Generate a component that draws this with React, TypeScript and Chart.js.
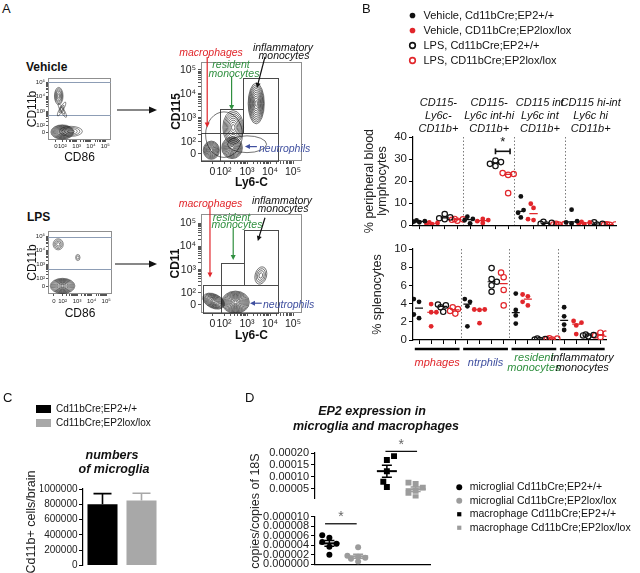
import React, { useEffect, useRef } from 'react';
import { Chart, registerables } from 'chart.js';

Chart.register(...registerables);

const FONT = "Arial, 'Liberation Sans', Helvetica, sans-serif";
Chart.defaults.font.family = FONT;
Chart.defaults.color = '#111';

// ---------------- colours ----------------
const RED = '#e1262b';
const GREEN = '#2f8f3f';
const BLUE = '#3f4f9f';
const BLACK = '#111111';
const GRAY_C = '#a8a8a8';
const GRAY_D = '#9c9c9c';

// ---------------- Panel A data (flow cytometry, display units: 0 -> ~1.5, 10^n -> n) ----------------
const flowTickLabels = ['0', '10²', '10³', '10⁴', '10⁵'];
const decades = [2, 3, 4];
const minorMultipliers = [2, 3, 4, 5, 6, 7, 8, 9];

// populations: centre (x,y), spread (rx,ry), rotation, contour count
const vehSmallPops = [
  { x: 1.75, y: 4.05, rx: 0.3, ry: 0.6, rot: 0, rings: 6 },
  { x: 1.95, y: 3.15, rx: 0.55, ry: 0.13, rot: -60, rings: 2 },
  { x: 2.0, y: 3.05, rx: 0.55, ry: 0.13, rot: 60, rings: 2 },
  { x: 2.0, y: 1.55, rx: 0.8, ry: 0.5, rot: 0, rings: 12 },
  { x: 2.6, y: 1.6, rx: 0.8, ry: 0.35, rot: 0, rings: 4 },
];
const vehBigPops = [
  { x: 2.0, y: 2.3, rx: 0.8, ry: 0.95, rot: 0, rings: 1 },
  { x: 3.0, y: 1.9, rx: 0.85, ry: 0.35, rot: 0, rings: 1 },
  { x: 1.45, y: 1.65, rx: 0.35, ry: 0.38, rot: 0, rings: 9 },
  { x: 2.35, y: 1.75, rx: 0.45, ry: 0.45, rot: 0, rings: 10 },
  { x: 2.4, y: 2.6, rx: 0.45, ry: 0.7, rot: 0, rings: 8 },
  { x: 3.4, y: 3.6, rx: 0.35, ry: 0.85, rot: 0, rings: 10 },
];
const lpsSmallPops = [
  { x: 1.7, y: 4.45, rx: 0.35, ry: 0.4, rot: 0, rings: 4 },
  { x: 3.05, y: 3.5, rx: 0.15, ry: 0.22, rot: 0, rings: 2 },
  { x: 2.0, y: 1.45, rx: 0.85, ry: 0.55, rot: 0, rings: 12 },
];
const lpsBigPops = [
  { x: 1.55, y: 1.65, rx: 0.5, ry: 0.3, rot: 25, rings: 10 },
  { x: 2.5, y: 1.6, rx: 0.6, ry: 0.48, rot: 0, rings: 12 },
  { x: 3.6, y: 2.75, rx: 0.25, ry: 0.38, rot: 15, rings: 4 },
];
const vehGates = [
  { x1: 1.0, x2: 1.83, y1: 1.2, y2: 2.36 },
  { x1: 1.83, x2: 4.33, y1: 1.2, y2: 2.36 },
  { x1: 1.83, x2: 2.84, y1: 2.36, y2: 3.38 },
  { x1: 2.84, x2: 4.33, y1: 2.36, y2: 4.68 },
];
const lpsGates = [
  { x1: 1.1, x2: 1.87, y1: 1.14, y2: 2.34 },
  { x1: 1.87, x2: 4.33, y1: 1.14, y2: 2.34 },
  { x1: 1.87, x2: 2.88, y1: 2.34, y2: 3.27 },
  { x1: 2.88, x2: 4.33, y1: 2.34, y2: 4.7 },
];
const vehArrows = [
  { x1: 1.27, y1: 5.54, x2: 1.27, y2: 2.6, c: RED },
  { x1: 2.33, y1: 4.71, x2: 2.33, y2: 3.33, c: GREEN },
  { x1: 3.78, y1: 5.54, x2: 3.43, y2: 4.25, c: BLACK },
  { x1: 3.43, y1: 1.8, x2: 2.91, y2: 1.8, c: BLUE },
];
const lpsArrows = [
  { x1: 1.39, y1: 5.69, x2: 1.39, y2: 2.66, c: RED },
  { x1: 2.4, y1: 4.79, x2: 2.4, y2: 3.42, c: GREEN },
  { x1: 3.78, y1: 5.23, x2: 3.47, y2: 4.23, c: BLACK },
  { x1: 3.64, y1: 1.56, x2: 3.13, y2: 1.56, c: BLUE },
];

// ---------------- Panel B data ----------------
const bSeries = ['Vehicle, Cd11bCre;EP2+/+', 'Vehicle, CD11bCre;EP2lox/lox', 'LPS, Cd11bCre;EP2+/+', 'LPS, CD11bCre;EP2lox/lox'];
const bSeriesColors = [BLACK, RED, BLACK, RED];
const bSeriesOpen = [false, false, true, true];
const bHeaders = [
  ['CD115-', 'Ly6c-', 'CD11b+'],
  ['CD115-', 'Ly6c int-hi', 'CD11b+'],
  ['CD115 int', 'Ly6c int', 'CD11b+'],
  ['CD115 hi-int', 'Ly6c hi', 'CD11b+'],
];
const bGroups = [['mphages'], ['ntrphils'], ['resident', 'monocytes'], ['inflammatory', 'monocytes']];
const bGroupColors = [RED, BLUE, GREEN, BLACK];
const bSlots = [1, 2, 3, 4, 5, 6, 7, 8, 9, 10, 11, 12, 13, 14, 15, 16];
const bSeriesSlots = [[1, 5, 9, 13], [2, 6, 10, 14], [3, 7, 11, 15], [4, 8, 12, 16]];
const bloodTicks = [0, 10, 20, 30, 40];
const spleenTicks = [0, 2, 4, 6, 8, 10];

// % peripheral blood lymphocytes (per group)
const pbVehWT = [[1.3, 1.6, 1.8, 2.1], [0.8, 2.2, 2.8, 3.8], [3.5, 5.6, 6.8, 13.0], [0.8, 1.2, 1.8, 7.0]];
const pbVehKO = [[0.4, 0.7, 1.0, 1.2], [1.0, 1.8, 2.3, 2.8], [2.3, 2.7, 7.8, 9.7], [0.4, 0.8, 1.2, 1.5]];
const pbLpsWT = [[2.7, 3.1, 3.5, 5.0], [26.8, 27.8, 28.6, 29.3], [0.3, 0.6, 1.0, 1.5], [0.2, 0.4, 0.6, 1.3]];
const pbLpsKO = [[2.0, 2.4, 2.6, 2.8], [14.5, 22.8, 23.2, 23.6], [0.2, 0.3, 0.5, 0.6], [0.1, 0.2, 0.3, 0.4]];
// % splenocytes (per group)
const spVehWT = [[2.4, 2.8, 4.2, 4.5], [1.5, 3.7, 4.2, 4.5], [1.8, 2.7, 3.3, 5.1], [1.1, 1.7, 2.6, 3.6]];
const spVehKO = [[1.5, 3.05, 3.05, 3.95], [1.85, 3.3, 3.35, 3.35], [3.8, 4.2, 4.8, 5.0], [0.65, 1.6, 1.9, 2.1]];
const spLpsWT = [[3.1, 3.6, 3.8, 3.9], [5.3, 6.0, 6.4, 6.7, 7.9], [0.0, 0.05, 0.1, 0.15], [0.4, 0.5, 0.55, 0.6]];
const spLpsKO = [[2.9, 3.2, 3.4, 3.6], [3.8, 5.5, 6.9, 7.4], [0.05, 0.1, 0.15, 0.2], [0.3, 0.5, 0.7, 0.8]];
const bloodSig = [{ x1: 7, x2: 8.15, y: 33.5, cap: 1.3, starY: 37.5 }];

// ---------------- Panel C data ----------------
const cSeries = ['Cd11bCre;EP2+/+', 'Cd11bCre;EP2lox/lox'];
const cColors = ['#000000', GRAY_C];
const cValues = [800000, 850000];
const cErrors = [140000, 95000];
const cTicks = [0, 200000, 400000, 600000, 800000, 1000000];

// ---------------- Panel D data ----------------
const dSeries = ['microglial Cd11bCre;EP2+/+', 'microglial Cd11bCre;EP2lox/lox', 'macrophage Cd11bCre;EP2+/+', 'macrophage Cd11bCre;EP2lox/lox'];
const dColors = ['#000000', GRAY_D, '#000000', GRAY_D];
const dStyles = ['circle', 'circle', 'rect', 'rect'];
const dMicroWT = [2.0e-6, 3.7e-6, 4.3e-6, 4.7e-6, 5.6e-6, 6.1e-6];
const dMicroKO = [0.6e-6, 1.2e-6, 1.4e-6, 1.6e-6, 1.8e-6, 3.6e-6];
const dMacroWT = [58e-6, 80e-6, 124e-6, 171e-6, 187e-6];
const dMacroKO = [15e-6, 33e-6, 42e-6, 55e-6, 70e-6, 76e-6];
const dUpperTicks = [0.00005, 0.0001, 0.00015, 0.0002];
const dLowerTicks = [0, 0.000002, 0.000004, 0.000006, 0.000008, 0.00001];
const dLowerSig = [{ x1: 0.85, x2: 1.95, y: 8.5e-6, cap: 0, starY: 9.9e-6 }];
const dUpperSig = [{ x1: 2.95, x2: 4.05, y: 207e-6, cap: 0, starY: 234e-6 }];

// ---------------- helpers ----------------
type Box = { l: number; t: number; r: number; b: number };

const fixW = (w: number) => (s: any) => { s.width = w; };
const fixH = (h: number) => (s: any) => { s.height = h; };
const setTicks = (vals: number[]) => (s: any) => { s.ticks = vals.map((v) => ({ value: v })); };

function median(a: number[]) {
  const s = [...a].sort((p, q) => p - q);
  const n = s.length;
  return n % 2 ? s[(n - 1) / 2] : (s[n / 2 - 1] + s[n / 2]) / 2;
}

// beeswarm-style horizontal offsets so that dots do not overlap (layout only)
function swarm(vals: number[], pxX: number, pxY: number, d: number, maxOffPx: number): number[] {
  const order = vals.map((_, i) => i).sort((a, b) => vals[a] - vals[b]);
  const placed: { x: number; y: number }[] = [];
  const off = new Array(vals.length).fill(0);
  const step = d * 0.55;
  order.forEach((i, n) => {
    const py = vals[i] * pxY;
    const cands: number[] = [0];
    for (let k = 1; k <= 10; k++) {
      const s = n % 2 ? -1 : 1;
      cands.push(s * k * step, -s * k * step);
    }
    let best = 0;
    let bestD = -1;
    for (const c of cands) {
      if (Math.abs(c) > maxOffPx) continue;
      const minD = placed.reduce((m, p) => Math.min(m, Math.hypot(p.x - c, p.y - py)), Infinity);
      if (minD >= d) { best = c; bestD = minD; break; }
      if (minD > bestD) { bestD = minD; best = c; }
    }
    placed.push({ x: best, y: py });
    off[i] = best / pxX;
  });
  return off;
}

function drawArrow(ctx: any, x1: number, y1: number, x2: number, y2: number, color: string, head = 5) {
  const a = Math.atan2(y2 - y1, x2 - x1);
  ctx.strokeStyle = color;
  ctx.fillStyle = color;
  ctx.lineWidth = 1.2;
  ctx.beginPath();
  ctx.moveTo(x1, y1);
  ctx.lineTo(x2 - Math.cos(a) * head * 0.8, y2 - Math.sin(a) * head * 0.8);
  ctx.stroke();
  const w = head * 0.5;
  ctx.beginPath();
  ctx.moveTo(x2, y2);
  ctx.lineTo(x2 - head * Math.cos(a) + w * Math.sin(a), y2 - head * Math.sin(a) - w * Math.cos(a));
  ctx.lineTo(x2 - head * Math.cos(a) - w * Math.sin(a), y2 - head * Math.sin(a) + w * Math.cos(a));
  ctx.closePath();
  ctx.fill();
}

// ---------------- plugins ----------------
const flowPlugin = {
  id: 'flow',
  beforeDatasetsDraw(chart: any, _a: any, o: any) {
    const { ctx, chartArea: ca, scales } = chart;
    const x = scales.x, y = scales.y;
    ctx.save();
    ctx.lineWidth = 1;
    ctx.strokeStyle = '#8f8f8f';
    ctx.strokeRect(ca.left + 0.5, ca.top + 0.5, ca.right - ca.left - 1, ca.bottom - ca.top - 1);
    ctx.strokeStyle = '#8d9db5';
    (o.hlines || []).forEach((v: number) => {
      const py = Math.round(y.getPixelForValue(v)) + 0.5;
      ctx.beginPath(); ctx.moveTo(ca.left, py); ctx.lineTo(ca.right, py); ctx.stroke();
    });
    ctx.strokeStyle = '#4a4a4a';
    (o.gates || []).forEach((g: any) => {
      const x1 = Math.round(x.getPixelForValue(g.x1)) + 0.5;
      const x2 = Math.round(x.getPixelForValue(g.x2)) + 0.5;
      const y1 = Math.round(y.getPixelForValue(g.y1)) + 0.5;
      const y2 = Math.round(y.getPixelForValue(g.y2)) + 0.5;
      ctx.strokeRect(x1, y2, x2 - x1, y1 - y2);
    });
    ctx.beginPath();
    ctx.rect(ca.left, ca.top, ca.right - ca.left, ca.bottom - ca.top);
    ctx.clip();
    const meta = chart.getDatasetMeta(0);
    const data = chart.data.datasets[0].data;
    ctx.strokeStyle = '#151515';
    ctx.lineWidth = o.lw || 0.6;
    meta.data.forEach((el: any, i: number) => {
      const p = data[i];
      const rx = Math.abs(x.getPixelForValue(p.x + p.rx) - el.x);
      const ry = Math.abs(y.getPixelForValue(p.y + p.ry) - el.y);
      for (let k = 1; k <= p.rings; k++) {
        const s = Math.pow(k / p.rings, 0.85);
        ctx.beginPath();
        ctx.ellipse(el.x, el.y, rx * s, ry * s, ((p.rot || 0) * Math.PI) / 180, 0, Math.PI * 2);
        ctx.stroke();
      }
    });
    ctx.restore();
  },
  afterDatasetsDraw(chart: any, _a: any, o: any) {
    const { ctx, scales } = chart;
    ctx.save();
    (o.arrows || []).forEach((r: any) => {
      drawArrow(ctx, scales.x.getPixelForValue(r.x1), scales.y.getPixelForValue(r.y1),
        scales.x.getPixelForValue(r.x2), scales.y.getPixelForValue(r.y2), r.c, 5);
    });
    ctx.restore();
  },
};

const sigPlugin = {
  id: 'sig',
  afterDatasetsDraw(chart: any, _a: any, o: any) {
    const { ctx, scales } = chart;
    const x = scales.x, y = scales.y;
    ctx.save();
    (o.items || []).forEach((it: any) => {
      const x1 = x.getPixelForValue(it.x1), x2 = x.getPixelForValue(it.x2);
      const py = y.getPixelForValue(it.y);
      ctx.strokeStyle = o.color || '#111';
      ctx.lineWidth = o.lw || 1.3;
      ctx.beginPath(); ctx.moveTo(x1, py); ctx.lineTo(x2, py); ctx.stroke();
      if (it.cap) {
        const c = Math.abs(y.getPixelForValue(it.y + it.cap) - py);
        ctx.beginPath();
        ctx.moveTo(x1, py - c); ctx.lineTo(x1, py + c);
        ctx.moveTo(x2, py - c); ctx.lineTo(x2, py + c);
        ctx.stroke();
      }
      ctx.fillStyle = o.starColor || '#111';
      ctx.font = `${o.starSize || 12}px ${FONT}`;
      ctx.textAlign = 'center';
      ctx.textBaseline = 'middle';
      ctx.fillText('*', (x1 + x2) / 2, y.getPixelForValue(it.starY));
    });
    ctx.restore();
  },
};

const groupBarPlugin = {
  id: 'groupBars',
  afterDraw(chart: any) {
    const { ctx } = chart;
    const s = chart.scales.xg;
    const n = s.ticks.length;
    const w = (s.right - s.left) / n;
    ctx.save();
    ctx.strokeStyle = '#000';
    ctx.lineWidth = 2.5;
    for (let i = 0; i < n; i++) {
      const cx = s.getPixelForValue(i);
      const yy = s.top + 4;
      ctx.beginPath();
      ctx.moveTo(cx - w / 2 + 1.8, yy);
      ctx.lineTo(cx + w / 2 - 1.8, yy);
      ctx.stroke();
    }
    ctx.restore();
  },
};

const meanSemPlugin = {
  id: 'meanSem',
  afterDatasetsDraw(chart: any) {
    const { ctx, scales } = chart;
    const x = scales.x, y = scales.y;
    ctx.save();
    chart.data.datasets.forEach((ds: any) => {
      if (!ds.vals) return;
      const v: number[] = ds.vals;
      const n = v.length;
      const mean = v.reduce((a, b) => a + b, 0) / n;
      const sd = Math.sqrt(v.reduce((a, b) => a + (b - mean) * (b - mean), 0) / (n - 1));
      const sem = sd / Math.sqrt(n);
      const cx = x.getPixelForValue(ds.cat);
      const my = y.getPixelForValue(mean);
      const hi = y.getPixelForValue(mean + sem);
      const lo = y.getPixelForValue(mean - sem);
      ctx.strokeStyle = ds.backgroundColor;
      ctx.lineWidth = 2;
      ctx.beginPath(); ctx.moveTo(cx - 10, my); ctx.lineTo(cx + 10, my); ctx.stroke();
      ctx.lineWidth = 1.5;
      ctx.beginPath();
      ctx.moveTo(cx, hi); ctx.lineTo(cx, lo);
      ctx.moveTo(cx - 5, hi); ctx.lineTo(cx + 5, hi);
      ctx.moveTo(cx - 5, lo); ctx.lineTo(cx + 5, lo);
      ctx.stroke();
    });
    ctx.restore();
  },
};

const errorBarPlugin = {
  id: 'errBars',
  afterDatasetsDraw(chart: any) {
    const { ctx, scales } = chart;
    ctx.save();
    chart.data.datasets.forEach((ds: any, di: number) => {
      const meta = chart.getDatasetMeta(di);
      meta.data.forEach((bar: any, i: number) => {
        const e = ds.errors ? ds.errors[i] : 0;
        if (!e) return;
        const top = scales.y.getPixelForValue(ds.data[i] + e);
        ctx.strokeStyle = ds.backgroundColor;
        ctx.lineWidth = 1.6;
        ctx.beginPath();
        ctx.moveTo(bar.x, bar.y); ctx.lineTo(bar.x, top);
        ctx.moveTo(bar.x - 9, top); ctx.lineTo(bar.x + 9, top);
        ctx.stroke();
      });
    });
    ctx.restore();
  },
};

// ---------------- config builders ----------------
function baseOptions(pad: any) {
  return { responsive: false, maintainAspectRatio: false, animation: false, devicePixelRatio: 1, events: [], layout: { padding: pad } };
}

function flowConfig(p: any) {
  const { canvas, area, xr, yr, zero, pops, gates, hlines, arrows, xTitle, yTitle, bold, tickSize, titleSize, yTitleX, xTitleY, tickLen, xPad, yPad } = p;
  const majors = [zero, 2, 3, 4, 5];
  const minors: number[] = [];
  decades.forEach((d) => minorMultipliers.forEach((k) => minors.push(d + Math.log10(k))));
  const all = [...majors, ...minors].sort((a, b) => a - b);
  const xt = all.filter((v) => v >= xr[0] && v <= xr[1]);
  const yt = all.filter((v) => v >= yr[0] && v <= yr[1]);
  const label = (v: any) => { const i = majors.indexOf(v); return i >= 0 ? flowTickLabels[i] : ''; };
  const tickFont = { size: tickSize };
  const tFont = { size: titleSize, weight: bold ? 'bold' : 'normal', lineHeight: 1 };
  return {
    type: 'scatter',
    data: { datasets: [{ data: pops, pointRadius: 0 }] },
    plugins: [flowPlugin],
    options: {
      ...baseOptions({ top: area.t - canvas.t, right: canvas.r - area.r, left: 0, bottom: 0 }),
      plugins: { legend: { display: false }, tooltip: { enabled: false }, flow: { gates, hlines, arrows, lw: p.lw } },
      scales: {
        x: {
          type: 'linear', min: xr[0], max: xr[1],
          afterBuildTicks: setTicks(xt),
          afterFit: fixH(canvas.b - area.b),
          ticks: { callback: label, autoSkip: false, maxRotation: 0, font: tickFont, padding: xPad, color: '#222' },
          grid: { drawOnChartArea: false, tickLength: tickLen, color: '#555' },
          border: { display: false },
          title: { display: true, text: xTitle, font: tFont, color: '#111', padding: { top: 0, bottom: canvas.b - xTitleY - titleSize / 2 } },
        },
        y: {
          type: 'linear', min: yr[0], max: yr[1],
          afterBuildTicks: setTicks(yt),
          afterFit: fixW(area.l - canvas.l),
          ticks: { callback: label, autoSkip: false, font: tickFont, padding: yPad, color: '#222' },
          grid: { drawOnChartArea: false, tickLength: tickLen, color: '#555' },
          border: { display: false },
          title: { display: true, text: yTitle, font: tFont, color: '#111', padding: { top: yTitleX - canvas.l - titleSize / 2, bottom: 0 } },
        },
      },
    },
  };
}

function bDatasets(series: number[][][], pxY: number) {
  const pts: any[] = [];
  const lines: any[] = [];
  series.forEach((groups, si) => {
    const color = bSeriesColors[si];
    const open = bSeriesOpen[si];
    const data: any[] = [];
    const med: any[] = [];
    groups.forEach((vals, gi) => {
      const slot = bSeriesSlots[si][gi];
      const off = swarm(vals, 12.69, pxY, 5, 5.5);
      vals.forEach((v, k) => data.push({ x: slot + off[k], y: v }));
      const m = median(vals);
      med.push({ x: slot - 0.33, y: m }, { x: slot + 0.33, y: m }, { x: slot + 0.4, y: null });
    });
    pts.push({
      type: 'scatter', label: bSeries[si], data, xAxisID: 'x', yAxisID: 'y',
      pointStyle: 'circle', pointRadius: open ? 2.7 : 2.4,
      backgroundColor: open ? 'rgba(255,255,255,0)' : color,
      borderColor: color, borderWidth: open ? 1.2 : 0,
    });
    lines.push({
      type: 'line', label: bSeries[si] + ' median', data: med, xAxisID: 'x', yAxisID: 'y',
      borderColor: color, borderWidth: 1.2, pointRadius: 0, spanGaps: false, fill: false,
    });
  });
  return [...pts, ...lines];
}

const gridSepColor = (c: any) => (c.index === undefined || c.index === 0 ? 'rgba(0,0,0,0)' : '#7a7a7a');

function bTopConfig() {
  const canvas = { l: 355, t: 90, r: 630, b: 234 };
  const area = { l: 413, t: 137, r: 616, b: 226 };
  return {
    type: 'scatter',
    data: { datasets: bDatasets([pbVehWT, pbVehKO, pbLpsWT, pbLpsKO], 2.225) },
    plugins: [sigPlugin],
    options: {
      ...baseOptions({ top: 0, right: canvas.r - area.r, bottom: 0, left: 0 }),
      plugins: { legend: { display: false }, tooltip: { enabled: false }, sig: { items: bloodSig, lw: 1.6, starSize: 13 } },
      scales: {
        x: {
          type: 'linear', min: 0.5, max: 16.5, position: 'bottom', weight: 0,
          afterBuildTicks: setTicks(bSlots), afterFit: fixH(canvas.b - area.b),
          ticks: { display: false },
          grid: { drawOnChartArea: false, tickLength: 4, color: '#000' },
          border: { color: '#000', width: 1.2 },
        },
        xg: {
          type: 'category', labels: bHeaders, position: 'top', offset: true, weight: 1,
          afterFit: fixH(area.t - canvas.t),
          grid: { offset: true, drawTicks: false, color: gridSepColor, lineWidth: 1 },
          border: { display: false, dash: [1.5, 2] },
          ticks: { autoSkip: false, maxRotation: 0, font: { size: 11, style: 'italic', lineHeight: 13 / 11 }, padding: 1.5, color: '#111' },
        },
        y: {
          type: 'linear', min: 0, max: 40,
          afterBuildTicks: setTicks(bloodTicks), afterFit: fixW(area.l - canvas.l),
          ticks: { autoSkip: false, font: { size: 11.5 }, padding: 2, color: '#222' },
          grid: { drawOnChartArea: false, tickLength: 4, color: '#000' },
          border: { color: '#000', width: 1.2 },
          title: { display: true, text: ['% peripheral blood', 'lymphocytes'], font: { size: 12.5, lineHeight: 1 }, color: '#222', padding: { top: 370 - canvas.l - 6.25, bottom: 0 } },
        },
      },
    },
  };
}

function bBottomConfig() {
  const canvas = { l: 355, t: 240, r: 630, b: 380 };
  const area = { l: 413, t: 249, r: 616, b: 340 };
  return {
    type: 'scatter',
    data: { datasets: bDatasets([spVehWT, spVehKO, spLpsWT, spLpsKO], 9.1) },
    plugins: [groupBarPlugin],
    options: {
      ...baseOptions({ top: area.t - canvas.t, right: canvas.r - area.r, bottom: 0, left: 0 }),
      plugins: { legend: { display: false }, tooltip: { enabled: false } },
      scales: {
        x: {
          type: 'linear', min: 0.5, max: 16.5, position: 'bottom', weight: 0,
          afterBuildTicks: setTicks(bSlots), afterFit: fixH(5),
          ticks: { display: false },
          grid: { drawOnChartArea: false, tickLength: 4, color: '#000' },
          border: { color: '#000', width: 1.2 },
        },
        xg: {
          type: 'category', labels: bGroups, position: 'bottom', offset: true, weight: 1,
          afterFit: fixH(canvas.b - area.b - 5),
          grid: { offset: true, drawTicks: false, color: gridSepColor, lineWidth: 1 },
          border: { display: false, dash: [1.5, 2] },
          ticks: {
            autoSkip: false, maxRotation: 0, crossAlign: 'center',
            font: { size: 11, style: 'italic', lineHeight: 10 / 11 }, padding: 13.3,
            color: (c: any) => bGroupColors[c.index] || '#111',
          },
        },
        y: {
          type: 'linear', min: 0, max: 10,
          afterBuildTicks: setTicks(spleenTicks), afterFit: fixW(area.l - canvas.l),
          ticks: { autoSkip: false, font: { size: 11.5 }, padding: 2, color: '#222' },
          grid: { drawOnChartArea: false, tickLength: 4, color: '#000' },
          border: { color: '#000', width: 1.2 },
          title: { display: true, text: '% splenocytes', font: { size: 12.5, lineHeight: 1 }, color: '#222', padding: { top: 378 - canvas.l - 6.25, bottom: 0 } },
        },
      },
    },
  };
}

function legendConfig(items: any[], labels: any) {
  return {
    type: 'scatter',
    data: { datasets: [] },
    options: {
      ...baseOptions(0),
      scales: { x: { display: false }, y: { display: false } },
      plugins: {
        tooltip: { enabled: false },
        legend: { display: true, position: 'top', align: 'start', labels: { ...labels, color: '#111', generateLabels: () => items } },
      },
    },
  };
}

const bLegendItems = bSeries.map((s, i) => ({
  text: s, fontColor: '#111', hidden: false, datasetIndex: i, pointStyle: 'circle',
  fillStyle: bSeriesOpen[i] ? '#ffffff' : bSeriesColors[i], strokeStyle: bSeriesColors[i], lineWidth: bSeriesOpen[i] ? 1.6 : 0,
}));
const cLegendItems = cSeries.map((s, i) => ({
  text: s, fontColor: '#111', hidden: false, datasetIndex: i, fillStyle: cColors[i], strokeStyle: cColors[i], lineWidth: 0,
}));
const dLegendItems = dSeries.map((s, i) => ({
  text: s, fontColor: '#111', hidden: false, datasetIndex: i, pointStyle: dStyles[i],
  fillStyle: dColors[i], strokeStyle: dColors[i], lineWidth: 0,
}));

function cConfig() {
  const canvas = { l: 40, t: 480, r: 175, b: 573 };
  const area = { l: 83, t: 489, r: 161, b: 572 };
  return {
    type: 'bar',
    data: {
      labels: [''],
      datasets: cSeries.map((s, i) => ({ label: s, data: [cValues[i]], errors: [cErrors[i]], backgroundColor: cColors[i], borderWidth: 0, categoryPercentage: 1, barPercentage: 0.77 })),
    },
    plugins: [errorBarPlugin],
    options: {
      ...baseOptions({ top: area.t - canvas.t, right: canvas.r - area.r, bottom: canvas.b - area.b, left: 0 }),
      plugins: { legend: { display: false }, tooltip: { enabled: false } },
      scales: {
        x: { display: false },
        y: {
          min: 0, max: 1000000,
          afterBuildTicks: setTicks(cTicks), afterFit: fixW(area.l - canvas.l),
          ticks: { autoSkip: false, font: { size: 10 }, padding: 1.5, color: '#222', callback: (v: any) => String(v) },
          grid: { drawOnChartArea: false, tickLength: 4, color: '#000' },
          border: { color: '#000', width: 1.2 },
        },
      },
    },
  };
}

function dDataset(vals: number[], si: number, cat: number, pxY: number) {
  const off = swarm(vals, 28.75, pxY, 6.5, 12);
  const isRect = dStyles[si] === 'rect';
  return {
    label: dSeries[si], cat, vals,
    data: vals.map((v, k) => ({ x: cat + off[k], y: v })),
    pointStyle: dStyles[si], pointRadius: isRect ? 4.2 : 3,
    backgroundColor: dColors[si], borderColor: dColors[si], borderWidth: 0,
  };
}

function dConfig(upper: boolean) {
  const canvas = upper ? { l: 262, t: 433, r: 440, b: 507 } : { l: 262, t: 508, r: 440, b: 573 };
  const area = upper ? { l: 315, t: 453, r: 430, b: 506 } : { l: 315, t: 516, r: 430, b: 569 };
  const datasets = upper
    ? [dDataset(dMacroWT, 2, 3, 0.279e6), dDataset(dMacroKO, 3, 4, 0.279e6)]
    : [dDataset(dMicroWT, 0, 1, 5.3e6), dDataset(dMicroKO, 1, 2, 5.3e6)];
  return {
    type: 'scatter',
    data: { datasets },
    plugins: [meanSemPlugin, sigPlugin],
    options: {
      ...baseOptions({ top: area.t - canvas.t, right: canvas.r - area.r, bottom: upper ? canvas.b - area.b : 0, left: 0 }),
      plugins: {
        legend: { display: false }, tooltip: { enabled: false },
        sig: { items: upper ? dUpperSig : dLowerSig, lw: 1.3, starSize: 14, starColor: '#666' },
      },
      scales: {
        x: upper
          ? { type: 'linear', display: false, min: 0.5, max: 4.5 }
          : {
            type: 'linear', min: 0.5, max: 4.5, afterFit: fixH(canvas.b - area.b),
            ticks: { display: false }, grid: { display: false }, border: { color: '#000', width: 1.2 },
          },
        y: {
          type: 'linear', min: upper ? 0.00001 : 0, max: upper ? 0.0002 : 0.00001,
          afterBuildTicks: setTicks(upper ? dUpperTicks : dLowerTicks), afterFit: fixW(area.l - canvas.l),
          ticks: { autoSkip: false, font: { size: 11 }, padding: 2, color: '#222', callback: (v: any) => Number(v).toFixed(upper ? 5 : 6) },
          grid: { drawOnChartArea: false, tickLength: 4, color: '#000' },
          border: { color: '#000', width: 1.2 },
        },
      },
    },
  };
}

// ---------------- components ----------------
function ChartBox({ box, config }: { box: Box; config: () => any }) {
  const ref = useRef<HTMLCanvasElement | null>(null);
  useEffect(() => {
    const chart = new Chart(ref.current as HTMLCanvasElement, config());
    return () => chart.destroy();
  }, []);
  const w = box.r - box.l;
  const h = box.b - box.t;
  return (
    <div style={{ position: 'absolute', left: box.l, top: box.t, width: w, height: h }}>
      <canvas ref={ref} width={w} height={h} style={{ display: 'block', width: w, height: h }} />
    </div>
  );
}

function Txt({ x, y, s, c = '#111', i = false, b = false, a = 'left', children }: any) {
  const tr = a === 'center' ? 'translateX(-50%)' : a === 'right' ? 'translateX(-100%)' : undefined;
  return (
    <div style={{ position: 'absolute', left: x, top: y - s / 2, fontSize: s, lineHeight: 1, color: c, fontStyle: i ? 'italic' : 'normal', fontWeight: b ? 'bold' : 'normal', whiteSpace: 'nowrap', transform: tr }}>
      {children}
    </div>
  );
}

function VText({ x, y, s, children }: any) {
  return (
    <div style={{ position: 'absolute', left: x - 80, top: y - 8, width: 160, height: 16, lineHeight: '16px', fontSize: s, textAlign: 'center', color: '#222', transform: 'rotate(-90deg)', whiteSpace: 'nowrap' }}>
      {children}
    </div>
  );
}

export default function App() {
  const vehSmall = () => flowConfig({
    canvas: { l: 20, t: 70, r: 116, b: 166 }, area: { l: 48, t: 78, r: 111, b: 140 },
    xr: [1.0, 5.4], yr: [1.0, 5.3], zero: 1.55, pops: vehSmallPops, gates: [], hlines: [5.0, 2.75], arrows: [],
    xTitle: 'CD86', yTitle: 'CD11b', bold: false, tickSize: 6, titleSize: 12, yTitleX: 33, xTitleY: 158, tickLen: 2, xPad: 1, yPad: 1, lw: 0.5,
  });
  const lpsSmall = () => flowConfig({
    canvas: { l: 20, t: 225, r: 116, b: 320 }, area: { l: 48, t: 231, r: 112, b: 294 },
    xr: [1.0, 5.4], yr: [0.87, 5.41], zero: 1.4, pops: lpsSmallPops, gates: [], hlines: [5.0, 2.66], arrows: [],
    xTitle: 'CD86', yTitle: 'CD11b', bold: false, tickSize: 6, titleSize: 12, yTitleX: 32.5, xTitleY: 314, tickLen: 2, xPad: 1.5, yPad: 1, lw: 0.5,
  });
  const vehBig = () => flowConfig({
    canvas: { l: 165, t: 40, r: 315, b: 190 }, area: { l: 201, t: 62, r: 302, b: 161 },
    xr: [1.0, 5.39], yr: [1.2, 5.33], zero: 1.5, pops: vehBigPops, gates: vehGates, hlines: [], arrows: vehArrows,
    xTitle: 'Ly6-C', yTitle: 'CD115', bold: true, tickSize: 10.5, titleSize: 12, yTitleX: 177, xTitleY: 183, tickLen: 3, xPad: 1.5, yPad: 2, lw: 0.6,
  });
  const lpsBig = () => flowConfig({
    canvas: { l: 165, t: 193, r: 315, b: 345 }, area: { l: 201, t: 214, r: 302, b: 313 },
    xr: [1.0, 5.39], yr: [1.14, 5.39], zero: 1.5, pops: lpsBigPops, gates: lpsGates, hlines: [], arrows: lpsArrows,
    xTitle: 'Ly6-C', yTitle: 'CD11', bold: true, tickSize: 10.5, titleSize: 12, yTitleX: 176, xTitleY: 336, tickLen: 3, xPad: 1.5, yPad: 2, lw: 0.6,
  });

  return (
    <div style={{ position: 'absolute', left: 0, top: 0, width: 640, height: 573, background: '#fff', overflow: 'hidden', fontFamily: FONT, color: '#111' }}>
      {/* Panel A */}
      <Txt x={2} y={8} s={13}>A</Txt>
      <Txt x={26} y={67} s={12} b>Vehicle</Txt>
      <Txt x={27} y={217} s={12} b>LPS</Txt>
      <ChartBox box={{ l: 20, t: 70, r: 116, b: 166 }} config={vehSmall} />
      <ChartBox box={{ l: 20, t: 225, r: 116, b: 320 }} config={lpsSmall} />
      <ChartBox box={{ l: 165, t: 40, r: 315, b: 190 }} config={vehBig} />
      <ChartBox box={{ l: 165, t: 193, r: 315, b: 345 }} config={lpsBig} />
      <svg width={640} height={573} style={{ position: 'absolute', left: 0, top: 0, pointerEvents: 'none' }}>
        <line x1={117} y1={110} x2={150} y2={110} stroke="#111" strokeWidth={1.2} />
        <polygon points="157,110 149,106.5 149,113.5" fill="#111" />
        <line x1={115} y1={264} x2={150} y2={264} stroke="#111" strokeWidth={1.2} />
        <polygon points="157,264 149,260.5 149,267.5" fill="#111" />
      </svg>
      <Txt x={211} y={52} s={10.5} i c={RED} a="center">macrophages</Txt>
      <Txt x={283} y={47} s={10.5} i a="center">inflammatory</Txt>
      <Txt x={284} y={55} s={10.5} i a="center">monocytes</Txt>
      <Txt x={231} y={64.5} s={10.5} i c={GREEN} a="center">resident</Txt>
      <Txt x={234} y={73} s={10.5} i c={GREEN} a="center">monocytes</Txt>
      <Txt x={259} y={148} s={10.5} i c={BLUE}>neutrophils</Txt>
      <Txt x={210.5} y={203.3} s={10.5} i c={RED} a="center">macrophages</Txt>
      <Txt x={282} y={200.7} s={10.5} i a="center">inflammatory</Txt>
      <Txt x={283} y={208} s={10.5} i a="center">monocytes</Txt>
      <Txt x={231.5} y={217.3} s={10.5} i c={GREEN} a="center">resident</Txt>
      <Txt x={237} y={224.5} s={10.5} i c={GREEN} a="center">monocytes</Txt>
      <Txt x={263} y={304.3} s={10.5} i c={BLUE}>neutrophils</Txt>

      {/* Panel B */}
      <Txt x={362} y={8} s={13}>B</Txt>
      <ChartBox box={{ l: 355, t: 90, r: 630, b: 234 }} config={bTopConfig} />
      <ChartBox box={{ l: 355, t: 240, r: 630, b: 380 }} config={bBottomConfig} />
      <ChartBox box={{ l: 403, t: 6, r: 640, b: 156 }} config={() => legendConfig(bLegendItems, { usePointStyle: true, boxWidth: 11, boxHeight: 4, padding: 4, font: { size: 11 } })} />

      {/* Panel C */}
      <Txt x={3} y={397} s={13}>C</Txt>
      <Txt x={112} y={455} s={12.5} b i a="center">numbers</Txt>
      <Txt x={114} y={469.5} s={12.5} b i a="center">of microglia</Txt>
      <VText x={31} y={522} s={12.5}>Cd11b+ cells/brain</VText>
      <ChartBox box={{ l: 40, t: 480, r: 175, b: 573 }} config={cConfig} />
      <ChartBox box={{ l: 32, t: 400, r: 200, b: 486 }} config={() => legendConfig(cLegendItems, { boxWidth: 15, boxHeight: 8, padding: 4, font: { size: 10 } })} />

      {/* Panel D */}
      <Txt x={245} y={397} s={13}>D</Txt>
      <Txt x={372} y={411} s={12.5} b i a="center">EP2 expression in</Txt>
      <Txt x={376} y={426} s={12.5} b i a="center">microglia and macrophages</Txt>
      <VText x={255} y={511} s={12.5}>copies/copies of 18S</VText>
      <ChartBox box={{ l: 262, t: 433, r: 440, b: 507 }} config={() => dConfig(true)} />
      <ChartBox box={{ l: 262, t: 508, r: 440, b: 573 }} config={() => dConfig(false)} />
      <ChartBox box={{ l: 451, t: 479, r: 640, b: 629 }} config={() => legendConfig(dLegendItems, { usePointStyle: true, boxWidth: 10.5, boxHeight: 4.2, padding: 3, font: { size: 10.5 } })} />
    </div>
  );
}
